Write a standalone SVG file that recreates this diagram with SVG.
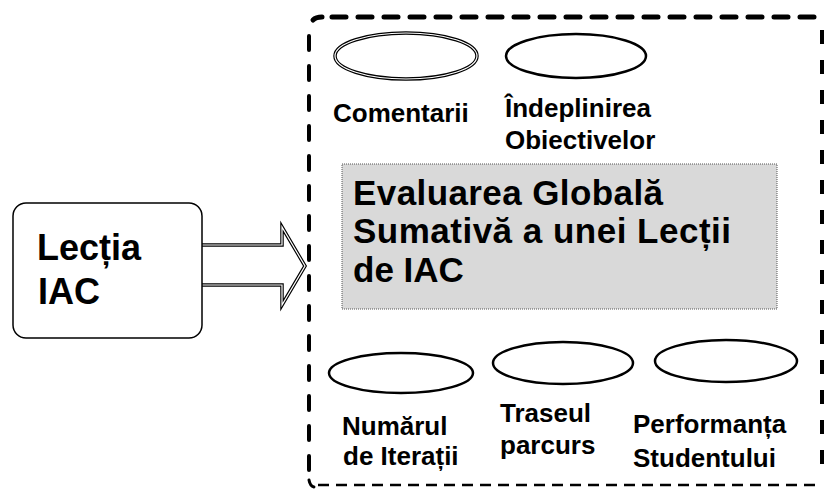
<svg xmlns="http://www.w3.org/2000/svg" width="825" height="495" viewBox="0 0 825 495">
<style>
text{font-family:"Liberation Sans",Arial,sans-serif;font-weight:bold;fill:#000}
.lbl{font-size:26px}
.big{font-size:36px}
.main{font-size:35px}
.ell{fill:#fff;stroke:#000;stroke-width:2.5}
</style>
<rect width="825" height="495" fill="#fff"/>
<g id="frame" fill="none" stroke="#000" stroke-linecap="round">
  <path d="M313,20 Q316,17 322,17" stroke-width="5"/>
  <line x1="332" y1="17" x2="822" y2="17" stroke-width="5" stroke-dasharray="14 12"/>
  <line x1="309" y1="36" x2="309" y2="475" stroke-width="4" stroke-dasharray="14 16"/>
  <line x1="822" y1="30" x2="822" y2="480" stroke-width="4" stroke-dasharray="14 16" stroke-linecap="butt"/>
  <line x1="318" y1="485" x2="822" y2="485" stroke-width="2.5" stroke-dasharray="11 7" stroke-linecap="butt"/>
  <path d="M309,480 Q310,486 314,487" stroke-width="3"/>
</g>
<g id="connectors">
  <path d="M200,245 L282,245 L282,227 L305,266 L282,305 L282,285 L200,285" fill="#fff" stroke="#000" stroke-width="3.5" stroke-linejoin="miter"/>
  <path d="M200,245 L282,245 L282,227 L305,266 L282,305 L282,285 L200,285" fill="none" stroke="#fff" stroke-width="1.2"/>
</g>
<g id="lectia">
  <rect x="13" y="203" width="189" height="135" rx="13" fill="#fff" stroke="#000" stroke-width="1.5"/>
  <text class="big" x="37" y="260">Lecția</text>
  <text class="big" x="38" y="304">IAC</text>
</g>
<g id="evaluare">
  <rect x="342" y="164" width="435" height="145" fill="#d9d9d9" stroke="#555" stroke-width="1" stroke-dasharray="1 1"/>
  <text class="main" x="353" y="205" textLength="310" lengthAdjust="spacing">Evaluarea Globală</text>
  <text class="main" x="353" y="243" textLength="378" lengthAdjust="spacing">Sumativă a unei Lecții</text>
  <text class="main" x="353" y="282">de IAC</text>
</g>
<g id="comentarii">
  <ellipse cx="406" cy="56" rx="71" ry="23" fill="#fff" stroke="#000" stroke-width="3.5"/>
  <ellipse cx="406" cy="56" rx="71" ry="23" fill="none" stroke="#fff" stroke-width="1.2"/>
  <text class="lbl" x="333" y="122">Comentarii</text>
</g>
<g id="obiective">
  <ellipse class="ell" cx="576" cy="56" rx="70" ry="22"/>
  <text class="lbl" x="505" y="117">Îndeplinirea</text>
  <text class="lbl" x="505" y="149">Obiectivelor</text>
</g>
<g id="iteratii">
  <ellipse class="ell" cx="401" cy="373" rx="72" ry="20"/>
  <text class="lbl" x="342" y="435">Numărul</text>
  <text class="lbl" x="343" y="465">de Iterații</text>
</g>
<g id="traseu">
  <ellipse class="ell" cx="563" cy="363" rx="70" ry="21"/>
  <text class="lbl" x="500" y="422">Traseul</text>
  <text class="lbl" x="500" y="454">parcurs</text>
</g>
<g id="performanta">
  <ellipse class="ell" cx="726" cy="361" rx="71" ry="21"/>
  <text class="lbl" x="633" y="433">Performanța</text>
  <text class="lbl" x="633" y="467">Studentului</text>
</g>
</svg>
